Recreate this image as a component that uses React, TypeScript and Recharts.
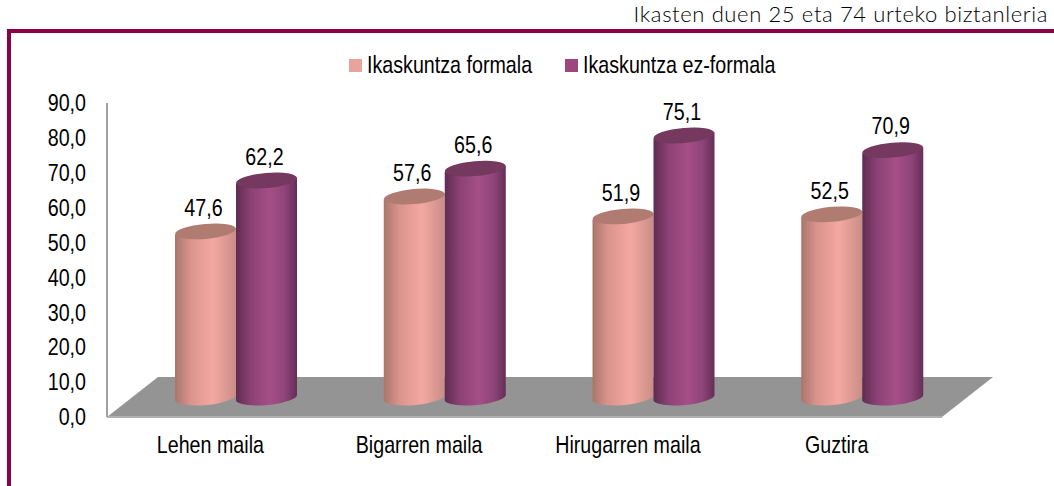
import { BarChart, Bar, XAxis, YAxis, Legend, LabelList, ReferenceArea } from "recharts";

const categories = ["Lehen maila", "Bigarren maila", "Hirugarren maila", "Guztira"];
const formala = [47.6, 57.6, 51.9, 52.5];
const ezFormala = [62.2, 65.6, 75.1, 70.9];
const yTicks = [0, 10, 20, 30, 40, 50, 60, 70, 80, 90];

const data = categories.map((name, i) => ({ name, formala: formala[i], ezFormala: ezFormala[i] }));

const FONT = "'Liberation Sans', Arial, sans-serif";
const FONT_SIZE = 24;
const SQUEEZE = 0.82; // la fuente original es mas estrecha que Liberation Sans
const BORDER = "#8c0048";
const DEPTH_X = 25;
const DEPTH_Y = 19.5;

const fmt = (v: any) => Number(v).toFixed(1).replace(".", ",");

function NarrowText({ x, y, anchor, children }: any) {
  return (
    <text
      transform={`translate(${x} ${y}) scale(${SQUEEZE} 1)`}
      textAnchor={anchor}
      dominantBaseline="central"
      fontSize={FONT_SIZE}
      fontFamily={FONT}
      fill="#000"
    >
      {children}
    </text>
  );
}

// cilindro: el rect que da recharts se desplaza para simular la profundidad
function cylinder(gradient: string, top: string) {
  return (props: any) => {
    const { x, y, width, height } = props;
    const l = x + DEPTH_X;
    const r = l + width;
    const cy = y - DEPTH_Y;
    const by = y + height - DEPTH_Y;
    const rx = width / 2;
    const ry = 7.5;
    return (
      <g>
        <path
          d={`M${l},${cy + 3} L${l},${by + 3} A${rx},${ry} -5 0 0 ${r},${by - 3} L${r},${cy - 3} Z`}
          fill={`url(#${gradient})`}
        />
        <ellipse
          cx={(l + r) / 2}
          cy={cy}
          rx={rx}
          ry={ry}
          fill={top}
          transform={`rotate(-5 ${(l + r) / 2} ${cy})`}
        />
      </g>
    );
  };
}

function Floor(props: any) {
  const { x, y, width, height } = props;
  const skew = 51;
  return (
    <polygon
      points={`${x},${y + height} ${x + skew},${y} ${x + width + skew},${y} ${x + width},${y + height}`}
      fill="#949494"
    />
  );
}

function ValueLabel(props: any) {
  const { x, y, width, value } = props;
  return (
    <NarrowText x={x + DEPTH_X + width / 2 - 2} y={y - DEPTH_Y - 24} anchor="middle">
      {fmt(value)}
    </NarrowText>
  );
}

function XTick({ x, y, payload }: any) {
  return (
    <NarrowText x={x - 1} y={y + 20} anchor="middle">
      {payload.value}
    </NarrowText>
  );
}

function YTick({ x, y, payload }: any) {
  return (
    <NarrowText x={x} y={y} anchor="end">
      {fmt(payload.value)}
    </NarrowText>
  );
}

function LegendRow({ payload }: any) {
  return (
    <div style={{ display: "flex", alignItems: "center" }}>
      {(payload || []).map((item: any) => (
        <div key={item.value} style={{ display: "flex", alignItems: "center", marginRight: 32 }}>
          <div style={{ width: 13, height: 13, background: item.color, marginRight: 5 }} />
          <svg width={Math.round(item.value.length * 9.2)} height={30} style={{ display: "block" }}>
            <NarrowText x={0} y={15} anchor="start">{item.value}</NarrowText>
          </svg>
        </div>
      ))}
    </div>
  );
}

export default function App() {
  return (
    <div style={{ position: "absolute", left: 0, top: 0, width: 1054, height: 486, overflow: "hidden", background: "#fff" }}>
      <div style={{ position: "absolute", right: 6, top: 1, whiteSpace: "nowrap", fontFamily: "Lato, sans-serif", fontWeight: 300, fontSize: 22, letterSpacing: 0.62, lineHeight: "26px", color: "#000" }}>
        Ikasten duen 25 eta 74 urteko biztanleria
      </div>
      <div style={{ position: "absolute", left: 7, top: 29, right: 0, height: 4, background: BORDER }} />
      <div style={{ position: "absolute", left: 7, top: 29, bottom: 0, width: 4, background: BORDER }} />
      <div style={{ position: "absolute", left: 0, top: 0 }}>
        <BarChart
          width={1054}
          height={486}
          data={data}
          barSize={61}
          barGap={0}
          margin={{ top: 103, right: 112, bottom: 0, left: 0 }}
        >
          <defs>
            <linearGradient id="gradFormala" x1="0" y1="0" x2="1" y2="0">
              <stop offset="0" stopColor="#a9756d" />
              <stop offset="0.25" stopColor="#d9948c" />
              <stop offset="0.62" stopColor="#f4a8a2" />
              <stop offset="1" stopColor="#c98d86" />
            </linearGradient>
            <linearGradient id="gradEz" x1="0" y1="0" x2="1" y2="0">
              <stop offset="0" stopColor="#5f2c52" />
              <stop offset="0.25" stopColor="#8c4275" />
              <stop offset="0.55" stopColor="#a54f87" />
              <stop offset="0.8" stopColor="#8f4479" />
              <stop offset="1" stopColor="#642e56" />
            </linearGradient>
          </defs>
          <ReferenceArea y1={0} y2={11.5} shape={Floor} ifOverflow="visible" />
          <XAxis
            dataKey="name"
            height={69}
            tickLine={false}
            axisLine={{ stroke: "#b0b0b0", strokeWidth: 2 }}
            interval={0}
            tick={<XTick />}
          />
          <YAxis
            domain={[0, 90]}
            ticks={yTicks}
            width={107}
            tickLine={false}
            axisLine={{ stroke: "#a0a0a0", strokeWidth: 2 }}
            tickMargin={15}
            interval={0}
            tick={<YTick />}
          />
          <Legend
            layout="horizontal"
            verticalAlign="middle"
            align="center"
            itemSorter={null}
            content={<LegendRow />}
            wrapperStyle={{ top: 50, left: 349, width: 460 }}
          />
          <Bar dataKey="formala" name="Ikaskuntza formala" fill="#e8a49c" isAnimationActive={false} shape={cylinder("gradFormala", "#b07c72")}>
            <LabelList dataKey="formala" content={ValueLabel} />
          </Bar>
          <Bar dataKey="ezFormala" name="Ikaskuntza ez-formala" fill="#9c4680" isAnimationActive={false} shape={cylinder("gradEz", "#75385f")}>
            <LabelList dataKey="ezFormala" content={ValueLabel} />
          </Bar>
        </BarChart>
      </div>
    </div>
  );
}
